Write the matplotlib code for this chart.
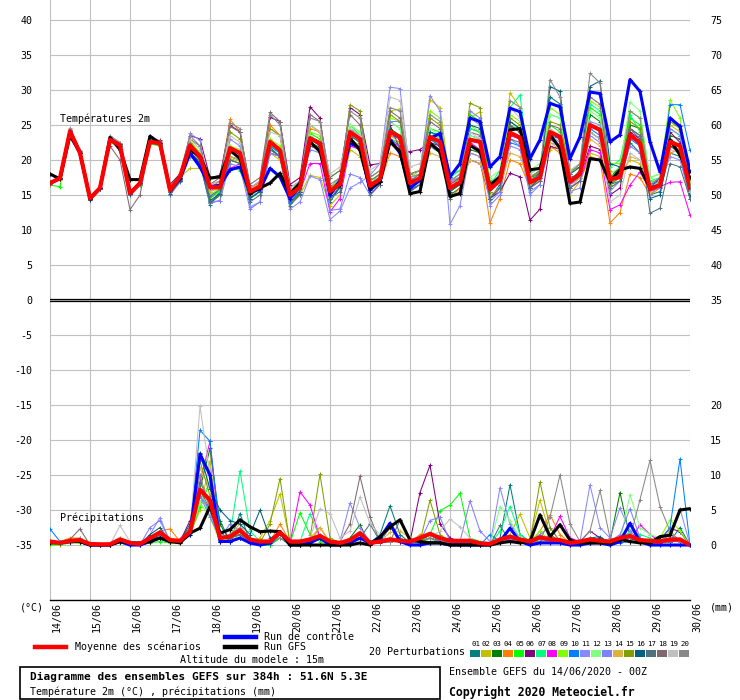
import matplotlib
matplotlib.use('Agg')
import matplotlib.pyplot as plt
from matplotlib.lines import Line2D
from matplotlib.patches import Rectangle
from matplotlib.transforms import ScaledTranslation

plt.rcParams['font.family'] = ['DejaVu Sans Mono', 'DejaVu Sans']

# ---------------- data ----------------
DATES = ['14/06', '15/06', '16/06', '17/06', '18/06', '19/06', '20/06', '21/06', '22/06',
         '23/06', '24/06', '25/06', '26/06', '27/06', '28/06', '29/06', '30/06']
STEPS = list(range(65))          # 6-hourly steps, 0h .. 384h

T_TICKS = [40, 35, 30, 25, 20, 15, 10, 5, 0, -5, -10, -15, -20, -25, -30, -35]
MM_TICKS = [75, 70, 65, 60, 55, 50, 45, 40, 35, 20, 15, 10, 5, 0]

PERT_NAMES = ['01', '02', '03', '04', '05', '06', '07', '08', '09', '10',
              '11', '12', '13', '14', '15', '16', '17', '18', '19', '20']
PERT_COLORS = ['#008080', '#c0c000', '#008000', '#ff8000', '#00ff00', '#800080', '#00ff80',
               '#ff00ff', '#80ff00', '#0080ff', '#8888ff', '#80ff80', '#8080ff', '#e0b040',
               '#80a000', '#006080', '#507080', '#806870', '#c0c0c0', '#888888']

# temperature 2m (degC)
t_mean = [16.7,17.4,24.1,21.0, 14.5,16.0,22.9,22.1, 15.2,16.7,22.6,22.4, 15.7,17.6,22.1,20.5,
          16.1,16.1,21.7,21.0, 15.5,16.2,22.6,21.4, 15.0,16.1,23.1,22.4, 15.5,16.6,24.0,23.0,
          16.3,17.3,24.0,23.3, 16.7,17.4,23.3,22.6, 16.0,16.8,22.9,22.6, 15.8,17.1,23.9,23.2,
          16.8,17.5,24.0,23.3, 16.9,18.0,25.0,24.3, 17.2,17.6,23.6,22.4, 15.8,16.4,22.6,22.0, 16.0]
t_ctrl = [16.7,17.4,24.1,21.0, 14.5,16.0,22.9,22.0, 15.2,16.7,22.6,22.4, 15.7,17.3,21.0,19.0,
          16.2,16.4,18.6,19.0, 15.5,15.8,18.8,17.6, 14.5,16.4,23.1,22.4, 15.0,17.1,22.4,21.7,
          15.7,16.9,22.9,21.0, 16.0,17.1,23.1,23.8, 17.6,19.5,26.0,25.5, 19.0,20.5,27.4,26.9,
          20.2,22.9,28.1,27.6, 20.2,23.3,29.7,29.5, 22.6,23.6,31.5,29.8, 22.6,18.3,26.0,24.8, 18.4]
t_gfs = [18.0,17.3,23.5,21.0, 14.5,16.0,23.2,21.5, 17.2,17.2,23.4,22.4, 15.7,17.5,21.5,20.5,
         17.4,17.6,21.4,20.2, 15.2,16.0,16.7,18.1, 15.2,16.7,22.6,21.2, 15.5,16.4,23.1,21.4,
         16.0,16.9,22.6,21.2, 15.2,15.5,22.4,21.2, 14.8,15.2,22.1,21.2, 16.4,17.6,24.3,24.5,
         18.6,18.8,23.6,21.7, 13.8,14.0,20.2,20.0, 16.9,18.6,19.0,18.8, 16.0,16.4,22.9,20.7, 17.6]

t_p01 = [16.8,17.5,24.3,21.2, 14.3,15.8,23.0,22.0, 15.0,16.8,22.8,22.3, 15.0,17.2,21.0,19.5,
         13.6,15.5,20.5,20.0, 14.8,16.0,21.8,20.5, 14.5,15.8,22.0,21.5, 14.0,16.2,23.0,22.0,
         15.5,17.0,22.5,21.5, 15.8,16.5,22.0,21.0, 15.5,16.8,24.5,24.0, 14.5,16.5,24.8,24.0,
         16.0,18.5,29.0,28.0, 17.5,18.0,24.0,23.0, 16.5,17.0,22.5,21.0, 15.0,15.5,21.0,20.5, 14.5]
t_p02 = [16.6,17.2,24.0,21.0, 14.6,16.1,22.8,22.2, 15.3,16.5,22.5,22.5, 16.0,17.5,18.8,18.8,
         16.5,16.0,20.2,19.8, 15.6,16.8,21.0,20.0, 14.0,15.0,17.8,17.5, 13.5,15.0,21.5,20.5,
         15.5,17.0,27.0,27.3, 17.5,18.5,28.6,27.5, 16.8,17.6,26.0,26.9, 16.0,17.0,29.6,27.5,
         17.0,18.0,21.5,22.0, 15.0,17.0,21.0,20.5, 18.5,18.0,20.0,19.5, 17.0,17.0,25.0,24.0, 16.0]
t_p03 = [16.9,17.3,24.2,21.3, 14.4,16.0,23.2,22.3, 15.4,16.9,22.4,22.1, 15.5,17.0,21.0,19.8,
         13.8,15.0,20.0,19.5, 14.5,15.5,21.5,20.5, 13.8,15.2,22.5,21.8, 15.5,16.5,24.5,23.5,
         16.0,17.5,24.5,23.5, 16.0,17.0,23.0,22.0, 15.0,16.0,21.5,21.0, 15.5,17.5,25.0,24.0,
         17.5,18.0,24.0,23.0, 17.0,18.5,26.5,25.5, 17.5,19.0,25.0,24.5, 16.0,17.0,23.5,23.0, 15.5]
t_p04 = [16.5,17.3,24.4,21.0, 14.7,16.2,23.0,22.0, 15.5,16.6,22.8,22.6, 16.0,17.8,22.5,20.5,
         16.5,17.0,25.8,24.0, 16.0,16.8,25.0,23.5, 15.5,16.5,24.5,24.0, 16.0,17.0,24.0,23.0,
         15.0,16.5,21.0,20.5, 16.5,17.0,22.0,21.5, 14.5,16.0,21.0,20.5, 11.0,14.5,20.0,19.5,
         16.0,17.0,22.0,21.0, 16.0,17.0,20.5,20.0, 11.0,12.5,18.0,17.5, 15.0,16.0,21.0,21.5, 16.5]
t_p05 = [16.4,16.2,24.0,21.2, 14.5,15.8,22.6,21.8, 15.2,16.4,22.3,22.0, 16.5,18.0,21.5,20.0,
         15.0,15.5,19.0,18.5, 14.5,15.5,22.0,21.0, 15.5,17.0,23.8,23.0, 17.5,18.5,23.5,22.5,
         17.0,18.0,23.0,22.5, 17.5,18.0,24.5,24.0, 18.0,18.5,26.5,25.5, 17.0,17.5,25.5,24.5,
         17.5,18.5,25.0,24.0, 17.0,18.0,27.5,26.5, 17.0,18.5,26.0,25.0, 16.5,17.0,22.5,22.0, 15.0]
t_p06 = [16.7,17.5,24.2,21.1, 14.5,16.0,23.0,22.3, 15.3,16.8,22.9,22.8, 16.5,18.0,23.5,23.0,
         17.5,17.8,25.0,24.0, 16.0,17.0,26.1,25.5, 16.5,17.5,27.6,26.0, 16.0,17.5,27.5,26.5,
         19.3,19.5,25.0,21.5, 21.2,21.5,22.5,22.0, 16.0,17.0,20.0,19.5, 14.5,15.5,18.1,17.6,
         11.4,13.0,22.0,21.5, 17.0,17.5,22.0,21.5, 15.0,16.0,24.0,23.0, 16.0,17.5,24.0,22.5, 17.0]
t_p07 = [16.8,17.4,24.1,21.0, 14.4,16.0,22.8,22.0, 15.0,16.6,22.5,22.3, 15.8,17.5,22.5,21.0,
         14.5,15.5,21.0,20.5, 15.0,16.0,22.0,21.0, 15.0,16.0,23.5,22.5, 15.5,17.0,25.0,23.5,
         16.5,18.0,25.5,24.5, 17.0,18.0,24.0,23.0, 17.5,18.5,24.5,24.0, 16.5,18.5,27.5,29.3,
         18.0,19.0,26.5,26.0, 18.0,19.5,28.0,27.0, 19.0,20.0,26.5,24.0, 17.0,17.5,24.5,23.5, 17.5]
t_p08 = [16.6,17.3,24.0,21.1, 14.6,16.1,22.9,22.0, 15.2,16.7,22.6,22.4, 15.8,17.5,21.5,20.0,
         15.5,16.5,18.8,19.5, 15.0,16.5,21.0,20.5, 14.0,15.5,19.5,19.5, 12.6,14.5,22.0,21.5,
         15.0,16.5,22.5,22.0, 16.0,17.5,23.5,22.5, 16.5,17.5,22.5,21.5, 15.5,17.0,23.5,23.0,
         16.5,17.5,23.0,22.0, 16.0,17.0,21.5,21.0, 12.9,13.6,16.4,18.3, 15.7,16.2,16.8,16.9, 12.2]
t_p09 = [16.7,17.4,24.3,21.2, 14.5,16.0,23.1,22.2, 15.2,16.8,22.7,22.5, 15.5,17.8,22.8,21.0,
         15.0,16.0,22.0,21.5, 15.5,16.5,23.0,22.0, 15.0,16.5,24.0,23.5, 16.0,17.0,25.0,24.0,
         17.0,18.0,26.0,25.5, 18.0,18.5,27.0,26.0, 17.0,18.0,25.0,24.0, 16.0,17.5,26.5,25.5,
         18.0,19.0,27.5,26.5, 18.5,19.5,28.5,27.5, 19.5,19.5,27.0,26.0, 17.5,18.0,28.6,26.0, 16.5]
t_p10 = [16.6,17.4,24.1,21.0, 14.4,15.9,22.8,22.1, 15.1,16.6,22.5,22.4, 15.5,17.3,21.5,20.2,
         14.8,15.8,20.5,20.0, 14.5,15.6,22.0,21.0, 14.0,15.5,22.5,21.5, 15.0,16.0,23.5,22.5,
         16.0,17.0,23.5,23.0, 16.5,17.5,23.0,22.0, 15.5,16.5,23.5,23.0, 16.5,17.5,22.5,22.0,
         17.0,18.0,23.5,23.0, 16.5,17.5,24.5,23.5, 16.5,17.5,23.0,22.0, 16.5,17.0,27.9,27.9, 21.4]
t_p11 = [16.8,17.5,24.6,21.4, 14.3,15.9,23.3,22.5, 15.4,16.9,22.9,22.6, 16.5,17.0,23.8,22.8,
         14.0,14.2,23.0,22.0, 13.3,14.0,21.0,20.5, 13.0,14.0,17.7,17.2, 11.5,12.7,16.0,16.8,
         17.8,19.5,30.4,30.2, 18.0,18.5,29.2,27.0, 10.8,13.5,21.0,20.5, 14.0,15.5,22.0,21.5,
         15.0,16.5,23.5,22.5, 15.5,16.0,25.5,25.0, 15.5,17.0,23.5,22.5, 15.0,16.5,20.5,20.0, 15.0]
t_p12 = [16.7,17.3,24.0,21.0, 14.5,16.0,22.8,22.0, 15.3,16.7,22.6,22.4, 16.0,17.6,22.0,20.5,
         15.5,16.0,21.5,21.0, 15.5,16.5,22.5,21.5, 15.5,16.5,23.5,22.5, 16.0,17.5,25.0,24.0,
         17.0,18.0,25.5,24.5, 17.5,18.0,24.5,23.5, 17.0,18.0,23.5,23.0, 17.5,18.5,25.0,24.5,
         18.5,19.5,26.5,26.0, 18.0,19.0,27.0,26.0, 18.0,19.0,28.3,27.0, 17.5,18.0,24.5,23.5, 17.0]
t_p13 = [16.7,17.4,24.2,21.1, 14.4,16.0,23.0,22.2, 15.2,16.6,22.6,22.5, 15.0,16.8,20.5,19.5,
         13.8,14.2,19.5,19.0, 13.0,14.0,21.0,20.5, 14.5,15.5,21.5,21.0, 12.8,13.0,18.0,17.5,
         15.0,16.5,25.5,25.5, 17.5,18.0,22.0,21.5, 17.0,17.5,27.0,26.0, 13.5,15.0,23.0,22.0,
         15.5,16.5,22.5,22.0, 16.5,17.5,23.5,22.5, 17.0,17.5,22.0,21.0, 15.5,16.0,24.5,23.5, 16.0]
t_p14 = [16.6,17.2,23.8,20.8, 14.6,16.2,22.7,22.0, 15.2,16.6,22.4,22.2, 15.8,17.5,21.8,20.0,
         15.5,16.0,20.5,20.0, 15.0,16.0,24.5,23.5, 15.5,16.5,25.0,24.0, 16.0,17.0,23.0,22.0,
         16.5,17.5,23.5,22.5, 16.0,17.0,21.0,20.5, 15.5,16.5,20.0,19.5, 15.0,16.0,21.0,20.5,
         16.5,17.0,22.5,21.5, 16.0,17.5,23.0,22.0, 16.0,17.0,20.5,20.0, 15.5,16.5,22.0,21.5, 15.5]
t_p15 = [16.7,17.4,24.1,21.1, 14.5,16.0,22.9,22.1, 15.2,16.7,22.6,22.4, 15.6,17.4,22.5,20.8,
         14.5,15.8,24.0,23.0, 15.5,16.5,24.5,23.5, 15.0,16.0,25.0,24.0, 16.0,17.0,27.9,27.0,
         17.5,18.5,26.5,25.5, 18.0,18.5,26.0,25.0, 16.0,17.5,28.1,27.5, 15.5,17.0,26.0,25.0,
         17.0,18.5,25.5,25.0, 18.5,19.0,25.0,24.5, 16.5,17.5,25.5,24.5, 16.0,17.0,25.5,24.5, 17.5]
t_p16 = [16.8,17.4,24.0,21.0, 14.3,15.8,22.9,22.3, 15.3,16.8,22.7,22.5, 15.2,17.0,21.0,19.5,
         14.2,15.2,21.5,21.0, 14.5,15.5,22.5,21.5, 14.5,15.5,23.0,22.0, 14.5,16.0,24.0,23.0,
         15.5,17.0,24.0,23.0, 15.5,16.5,24.0,23.5, 15.5,16.5,25.0,24.5, 14.5,16.0,25.5,24.5,
         16.0,17.5,30.5,29.8, 18.0,19.0,30.5,31.3, 19.5,19.0,24.5,23.5, 14.5,15.0,22.0,21.0, 15.0]
t_p17 = [16.6,17.3,24.2,21.0, 14.4,15.9,22.8,22.0, 15.1,16.6,22.5,22.3, 15.5,17.2,21.5,20.0,
         14.0,15.0,20.0,19.5, 14.0,15.0,21.5,20.5, 13.5,15.0,22.0,21.5, 14.5,15.5,23.5,22.5,
         15.0,16.5,23.0,22.0, 15.5,16.5,22.5,21.5, 14.5,15.5,22.0,21.5, 14.5,16.0,23.0,22.5,
         16.0,17.0,23.0,22.0, 16.0,17.0,24.0,23.0, 16.0,17.0,24.5,23.0, 12.4,13.1,19.5,19.0, 14.5]
t_p18 = [16.7,17.4,24.0,21.0, 14.5,16.0,22.0,20.0, 12.9,15.0,22.5,22.3, 15.5,17.5,23.0,22.0,
         16.5,17.5,24.8,24.0, 16.5,17.5,26.8,25.5, 16.0,17.0,26.5,25.5, 17.5,18.5,26.5,25.0,
         17.0,18.0,27.0,26.0, 17.0,18.0,25.5,24.5, 16.5,17.5,24.0,23.5, 16.0,17.5,25.0,24.0,
         17.5,18.5,25.0,24.5, 17.0,18.5,29.0,28.0, 17.5,18.0,24.5,23.5, 16.0,17.0,23.0,22.0, 16.0]
t_p19 = [16.7,17.3,24.1,21.0, 14.5,16.0,22.9,22.2, 15.3,16.8,22.7,22.5, 16.0,17.8,23.0,21.5,
         16.5,17.0,23.5,22.5, 16.0,17.0,24.0,23.5, 16.0,17.0,25.0,24.0, 18.0,19.0,24.5,23.5,
         18.5,19.5,29.0,28.5, 19.0,19.5,23.5,22.5, 17.0,18.0,24.0,23.0, 16.5,18.0,27.5,26.0,
         18.0,19.0,24.5,23.5, 18.5,19.5,24.0,23.0, 14.0,15.0,21.0,20.0, 16.0,17.0,21.5,21.0, 15.5]
t_p20 = [16.8,17.5,24.3,21.2, 14.4,16.0,23.5,22.5, 15.4,16.9,23.0,22.7, 16.3,17.8,23.5,22.0,
         16.0,17.0,25.3,24.5, 15.5,16.5,26.5,25.0, 15.5,16.5,26.0,25.5, 16.5,17.5,27.0,26.0,
         17.5,18.5,27.5,27.0, 18.0,18.5,26.5,25.5, 17.0,18.0,26.0,25.0, 16.0,17.5,28.5,27.5,
         17.5,18.5,31.5,29.0, 18.0,19.5,32.4,31.0, 17.0,18.0,27.0,26.0, 16.5,17.5,26.0,25.0, 16.5]

# precipitation (mm / 6h)
r_mean = [0.5,0.3,0.6,0.7, 0.15,0.1,0.1,0.8, 0.3,0.15,1.0,1.8, 0.7,0.6,1.9,7.9,
          6.4,1.0,1.2,2.1, 0.8,0.5,0.5,1.8, 0.5,0.5,0.8,1.3, 0.5,0.3,0.7,1.7,
          0.3,0.5,0.8,0.6, 0.5,1.0,1.6,1.0, 0.6,0.6,0.6,0.25, 0.15,0.8,1.2,0.8,
          0.5,1.1,0.8,0.7, 0.3,0.5,0.8,0.6, 0.5,1.0,1.3,0.7, 0.6,0.5,0.8,0.8, 0.0]
r_ctrl = [0.5,0.3,0.5,0.5, 0,0,0,0.5, 0,0,0.5,1.0, 0.5,0.5,1.5,13.0,
          10.0,0.5,0.5,1.0, 0.3,0,0.3,1.9, 0,0,0.3,1.0, 0,0,0.3,1.0,
          0.3,1.0,3.1,0.5, 0,0,0.3,0.3, 0,0,0,0, 0,0.5,2.4,0.5,
          0,0.3,0.3,0.3, 0,0,0.3,0.3, 0,0.5,3.1,0.5, 0,0,0,0, 0]
r_gfs = [0.3,0.3,0.5,0.5, 0,0,0,0.5, 0.3,0.3,0.5,1.0, 0.5,0.3,1.7,2.4,
         5.5,1.7,2.2,3.6, 2.6,1.9,2.0,1.9, 0,0,0,0, 0,0,0,0.3,
         0,1.2,2.6,3.6, 0.7,0.5,0.3,0.3, 0,0,0,0, 0,0.3,0.5,0.3,
         0.5,4.3,1.2,2.9, 0.7,0.3,0.3,0.3, 0.3,0.8,0.5,0.3, 0.3,1.2,1.4,5.0, 5.2]

r_p01 = [0.3,0.2,0.5,0.8, 0,0,0,0.5, 0.2,0,0.8,2.0, 0.5,0.5,2.0,6.0, 9.0,3.5,0.5,4.5, 0.5,0,0,1.0,
         0,0,0.5,1.0, 0,0,0.5,1.5, 0,1.5,5.6,1.5, 0.3,0.5,1.5,0.5, 0.3,0.3,0.5,0, 0,1.0,8.6,1.5,
         0.5,1.5,0.5,0.3, 0,0.5,1.0,1.2, 0.3,0.5,1.0,0.5, 0.3,0.5,0.5,2.5, 0]
r_p02 = [0.5,0.3,0.5,0.5, 0,0,0,0.8, 0.3,0,1.0,1.5, 0.5,0.5,1.5,5.0, 12.0,1.0,1.5,2.0, 0.5,1.0,3.5,7.3,
         0.5,0,0.5,1.0, 0.3,0,0.5,1.0, 0.5,0.5,1.0,0.5, 0.3,0.5,1.0,0.5, 0.5,0.5,0.3,0, 0,0.5,1.5,4.4,
         1.0,6.4,1.5,0.5, 0.3,0.5,0.5,0.5, 0.5,0.5,0.5,0.3, 0.3,0.5,2.0,0.5, 0]
r_p03 = [0.3,0.2,0.3,0.5, 0,0,0,0.5, 0,0,0.5,1.5, 0.8,0.5,2.0,8.0, 13.8,3.0,0.5,1.0, 0.5,0,0,1.5,
         0.3,0.3,0.8,1.5, 0.5,0.3,1.0,2.9, 0,0.5,0.5,0.5, 0.5,0.8,1.5,0.8, 0.5,0.5,0.5,0, 0,0.5,1.0,0.5,
         0.3,0.5,0.5,0.5, 0,0.3,0.5,0.5, 0.5,7.5,1.0,0.5, 0.5,0.3,0.5,0.5, 0]
r_p04 = [0.5,0.5,1.0,1.0, 0,0,0,1.0, 0.5,0,1.0,2.0, 2.3,0.5,2.5,8.0, 6.0,0.5,1.0,2.0, 0.5,0.5,0.5,3.0,
         0.5,0.3,0.5,2.5, 0.3,0,0.5,1.0, 0.5,0.3,0.5,0.5, 0.3,1.5,1.5,1.0, 0.5,0.5,0.5,0, 0,0.5,0.5,0.5,
         0.3,2.0,4.3,1.5, 0.3,0.5,0.5,0.3, 0.3,0.5,0.5,0.3, 0.3,0.3,0.5,0.5, 0]
r_p05 = [0,0,0.3,0.3, 0,0,0,0.3, 0,0,0.3,0.5, 0.3,0.3,1.5,5.5, 9.0,1.0,0.5,1.5, 0.3,0,0,1.0,
         0.3,4.6,1.5,0.5, 0.3,0,0.5,1.0, 0,0.5,0.5,0.5, 0.3,0.5,1.5,4.9, 5.7,7.4,1.0,0.5, 0,0.5,0.8,0.5,
         0.3,0.8,0.5,0.5, 0,0.5,0.5,0.5, 0.3,0.5,1.0,0.5, 0.3,0.5,1.0,0.5, 0]
r_p06 = [0.5,0.3,0.5,0.8, 0,0,0,0.5, 0.3,0,1.0,1.5, 0.5,0.5,3.5,7.0, 5.0,0.5,1.0,1.5, 0.5,0,0.5,1.0,
         0.3,0.3,0.5,1.0, 0.5,0.3,0.5,1.5, 0.5,0.3,0.5,0.8, 0.5,7.5,11.4,3.0, 1.0,0.5,0.5,0, 0,0.5,0.8,0.5,
         0.3,0.5,0.5,0.5, 0,0.5,2.0,1.0, 0.3,0.5,1.0,0.5, 0.3,0.8,2.4,1.9, 0]
r_p07 = [0.3,0.2,0.5,0.5, 0,0,0,0.5, 0,0,0.5,1.5, 0.5,0.5,1.5,8.0, 4.0,1.0,1.5,10.6, 2.0,0.5,0.5,1.0,
         0.3,0.5,4.5,1.0, 0.5,0.3,0.5,1.0, 0.5,0.5,0.5,0.5, 0.3,0.5,1.0,0.5, 0.3,0.5,0.5,0, 0,2.0,5.5,1.5,
         0.5,0.5,0.5,0.5, 0,0.3,0.5,0.5, 0.3,0.5,2.0,1.5, 1.0,0.5,0.5,0.5, 0]
r_p08 = [0.3,0.2,0.3,0.5, 0,0,0,0.5, 0,0,0.5,1.0, 0.5,0.5,2.0,9.0, 14.8,1.0,0.5,1.0, 0.3,0.5,0.5,1.0,
         0.3,7.6,5.7,1.0, 0.3,0,0.5,1.0, 0,0.5,0.5,0.5, 0.3,0.5,1.0,0.5, 0.3,0.3,0.3,0, 0,0.5,0.5,0.5,
         0.3,0.5,1.0,4.1, 1.0,0.5,0.5,0.3, 0.3,0.5,0.5,2.9, 1.5,0.5,0.5,0.5, 0]
r_p09 = [0,0,0.3,0.3, 0,0,0,0.3, 0,0,0.5,1.0, 0.3,0.3,1.5,6.0, 4.0,0.5,1.0,1.5, 0.5,0,0.5,1.0,
         0.3,0.3,0.5,1.0, 0.3,0,0.5,0.8, 0.3,0.5,0.5,0.5, 0.3,0.5,0.8,0.5, 0.3,0.3,0.3,0, 0,0.5,0.5,0.5,
         0.5,2.0,0.5,0.5, 0,0.3,0.5,0.3, 0.3,0.5,0.5,0.5, 0.5,1.0,3.6,2.0, 0]
r_p10 = [2.3,0.5,0.3,0.5, 0,0,0,0.5, 0,0,0.5,1.0, 0.5,0.5,2.0,16.4, 14.8,2.0,0.5,1.0, 0.3,0,0.3,1.0,
         0.3,0.3,0.5,1.0, 0.3,0,0.5,1.0, 0.3,1.5,0.5,0.5, 0.3,0.3,0.5,0.5, 0.3,0.3,0.3,0, 1.5,0.5,0.5,0.5,
         0.3,0.5,0.5,0.3, 0,0.3,0.3,0.3, 0,0.3,0.5,0.3, 0,0.5,2.5,12.3, 0]
r_p11 = [0.5,0.3,0.5,0.8, 0,0,0,0.5, 0.3,0,1.5,3.9, 0.5,0.5,2.0,7.0, 5.0,1.0,1.5,2.0, 0.5,0.3,0.5,1.5,
         0.5,0.5,0.5,1.0, 0.3,0.5,6.0,2.5, 0.5,0.5,0.5,0.5, 0.5,0.5,1.0,0.5, 0.3,0.3,0.5,0, 0,8.2,3.0,1.0,
         0.5,0.5,0.5,0.5, 0.3,0.5,8.6,2.5, 1.0,5.3,2.0,0.5, 0.5,0.5,1.0,5.2, 0]
r_p12 = [0.3,0.2,0.3,0.5, 0,0,0,0.3, 0,0,0.5,1.0, 0.5,0.5,1.5,6.0, 9.0,1.0,0.5,1.5, 0.5,0,0.5,1.0,
         0.3,0.3,0.5,1.0, 0.3,0.3,0.5,1.0, 0.3,0.5,0.5,0.5, 0.3,0.5,0.8,0.5, 0.3,0.3,0.3,0, 0,5.5,3.5,1.0,
         0.5,0.5,0.5,0.5, 0.3,0.5,0.5,0.5, 0.5,0.5,7.2,2.5, 1.5,1.0,0.5,0.5, 0]
r_p13 = [0.5,0.3,0.5,0.5, 0,0,0,0.5, 0.3,0,2.5,3.5, 0.5,0.5,2.0,7.0, 4.0,1.0,3.0,2.0, 0.5,0.3,0.5,1.0,
         0.3,0.3,0.5,1.0, 0.5,0.5,0.5,1.5, 0.5,0.5,0.5,0.5, 0.5,0.5,3.5,4.0, 0.5,0.5,6.3,2.0, 0.5,0.5,0.8,0.5,
         0.5,1.5,2.5,0.5, 0.3,0.5,0.5,0.5, 0.5,1.5,5.2,1.0, 0.5,0.5,1.5,0.5, 0]
r_p14 = [0.5,0.3,0.8,0.8, 0,0,0,0.8, 0.3,0,1.0,2.0, 1.0,0.5,2.5,11.0, 8.0,1.0,1.5,3.0, 0.5,0.5,0.5,1.0,
         0.5,0.5,1.0,2.5, 0.5,0.3,0.5,1.0, 0.5,0.5,1.8,2.0, 1.0,0.5,1.0,0.5, 0.5,0.3,0.3,0, 0,0.5,0.5,0.5,
         0.3,0.5,1.0,0.5, 0.3,0.5,0.5,0.3, 0.3,0.5,0.5,0.5, 0.3,0.3,0.5,0.5, 0]
r_p15 = [0.3,0.2,0.5,0.5, 0,0,0,0.5, 0,0,0.5,1.5, 0.5,0.5,2.5,12.0, 7.0,1.0,1.0,1.5, 0.5,0.3,3.0,9.5,
         0.3,0.5,1.0,10.1, 1.0,0.3,0.5,1.0, 0.5,0.5,0.5,0.5, 0.5,0.5,6.4,1.5, 0.5,0.3,0.3,0, 0,0.5,0.5,0.5,
         0.5,9.0,2.5,0.5, 0.3,0.5,0.5,0.3, 0.3,0.5,0.5,0.5, 0.3,0.3,0.5,0.5, 0]
r_p16 = [0.3,0.2,0.5,0.5, 0,0,0,0.5, 0.3,0,1.5,2.5, 0.5,0.5,3.0,13.1, 8.0,5.0,3.5,3.0, 1.5,5.0,1.0,1.5,
         0.5,0.3,0.5,1.0, 0.5,0.3,0.5,1.5, 0.5,0.5,0.5,0.5, 0.3,0.5,1.0,0.5, 0.3,0.3,0.3,0, 0,0.5,0.5,0.5,
         0.3,0.5,0.5,0.5, 0,0.5,0.5,1.0, 0.3,0.5,1.0,0.5, 0.3,0.5,0.5,0.5, 0]
r_p17 = [0.3,0.2,0.5,0.5, 0,0,0,0.5, 0,0,0.5,1.5, 0.5,0.5,2.0,9.0, 6.0,1.0,1.0,1.5, 0.5,0.3,0.5,1.0,
         0.3,0.3,0.5,1.0, 0.3,0.3,0.5,1.0, 3.0,0.5,2.5,1.0, 0.3,0.5,1.0,0.5, 0.3,0.3,0.3,0, 0,2.8,0.5,0.5,
         0.3,0.5,0.5,0.5, 0,0.5,0.5,0.5, 0.3,0.5,1.5,0.5, 0.3,0.5,0.5,0.5, 0]
r_p18 = [0.5,0.3,0.8,2.3, 0,0,0,0.8, 0.3,0,1.0,2.0, 0.5,0.5,2.0,8.0, 5.0,1.0,1.0,1.5, 0.5,0.3,0.5,1.0,
         0.3,0.3,0.5,1.0, 0.5,0.5,3.0,9.8, 4.0,0.5,0.5,3.5, 0.5,0.5,1.0,0.5, 0.3,0.3,0.3,0, 0,0.5,0.5,0.5,
         0.3,0.5,1.5,0.5, 0.3,0.5,0.5,0.3, 0.3,0.5,0.5,0.5, 0.3,0.3,0.5,0.5, 0]
r_p19 = [0.3,0.2,0.5,0.5, 0,0,0,2.8, 0.5,0,0.5,1.0, 0.5,0.5,2.0,19.8, 10.0,1.0,1.5,2.0, 0.5,0.5,0.5,1.0,
         0.3,0.3,1.0,5.2, 4.5,1.0,2.0,6.9, 3.1,1.5,0.5,0.5, 0.3,0.5,1.0,2.0, 3.7,2.6,1.0,0, 0,0.5,0.5,0.5,
         0.3,0.5,0.5,0.5, 0,0.3,0.5,0.5, 0.3,0.5,0.5,0.5, 0.3,0.5,1.0,0.5, 0]
r_p20 = [0.5,0.3,0.5,1.0, 0,0,0,0.5, 0.3,0,1.0,2.0, 0.5,0.5,2.5,10.0, 5.0,1.0,1.5,2.5, 0.5,0.5,0.5,1.0,
         0.3,0.3,0.5,1.0, 0.3,0.3,0.5,1.0, 0.3,0.5,0.5,0.5, 0.3,0.5,1.0,0.5, 0.3,0.3,0.3,0, 0,0.5,0.5,0.5,
         0.3,0.5,4.0,10.0, 3.0,0.5,2.0,7.8, 1.0,0.5,1.0,6.5, 12.1,5.5,2.0,0.5, 0]

T_PERTS = [t_p01, t_p02, t_p03, t_p04, t_p05, t_p06, t_p07, t_p08, t_p09, t_p10,
           t_p11, t_p12, t_p13, t_p14, t_p15, t_p16, t_p17, t_p18, t_p19, t_p20]
R_PERTS = [r_p01, r_p02, r_p03, r_p04, r_p05, r_p06, r_p07, r_p08, r_p09, r_p10,
           r_p11, r_p12, r_p13, r_p14, r_p15, r_p16, r_p17, r_p18, r_p19, r_p20]

# ---------------- figure ----------------
W, H = 740, 700
fig = plt.figure(figsize=(W / 100, H / 100), dpi=100)
fig.patch.set_facecolor('white')

def fx(x):
    return x / W

def fy(y):
    return 1 - y / H

ax = fig.add_axes([fx(50), fy(600), 640 / W, 600 / H])
ax2 = ax.twinx()
YLIM = 300 / 7.0
ax.set_ylim(-YLIM, YLIM)
ax2.set_ylim(-YLIM + 35, YLIM + 35)     # precipitation scale: 0 mm at -35 degC
ax.set_xlim(STEPS[0], STEPS[-1])

GRID = '#c0c0c0'
FS = 7.2
ax.set_yticks(T_TICKS)
ax.set_yticklabels([str(v) for v in T_TICKS])
ax.set_xticks(STEPS[::4])
ax.set_xticklabels(DATES, rotation=90, ha='center', va='top')
ax.grid(True, color=GRID, lw=0.8)
ax.set_axisbelow(True)
ax.tick_params(axis='y', length=0, pad=12.5, labelsize=FS)
ax.tick_params(axis='x', length=0, pad=1.5, labelsize=FS)
for lab in ax.get_xticklabels():
    lab.set_transform(lab.get_transform() + ScaledTranslation(0.07, 0, fig.dpi_scale_trans))
ax2.set_yticks(MM_TICKS)
ax2.set_yticklabels([str(v) for v in MM_TICKS])
ax2.tick_params(axis='y', length=0, pad=14.5, labelsize=FS)

for a in (ax, ax2):
    for s in ('left', 'right', 'top'):
        a.spines[s].set_visible(False)
ax.spines['bottom'].set_color('black')
ax.spines['bottom'].set_linewidth(1.0)
ax2.spines['bottom'].set_visible(False)

# double zero line
ax.axhline(0.18, color='black', lw=0.9, zorder=3)
ax.axhline(-0.18, color='black', lw=0.9, zorder=3)

# perturbations
for vals_t, vals_r, col in zip(T_PERTS, R_PERTS, PERT_COLORS):
    ax.plot(STEPS, vals_t, color=col, lw=0.75, marker='+', ms=3.2, mew=0.7, zorder=2)
    ax2.plot(STEPS, vals_r, color=col, lw=0.75, marker='+', ms=3.2, mew=0.7, zorder=2)

# control, GFS, mean
ax.plot(STEPS, t_ctrl, color='#0000ff', lw=2.2, marker='+', ms=3, mew=0.8, zorder=4)
ax2.plot(STEPS, r_ctrl, color='#0000ff', lw=2.2, marker='+', ms=3, mew=0.8, zorder=4)
ax.plot(STEPS, t_gfs, color='black', lw=2.2, marker='+', ms=3, mew=0.8, zorder=5)
ax2.plot(STEPS, r_gfs, color='black', lw=2.2, marker='+', ms=3, mew=0.8, zorder=5)
ax.plot(STEPS, t_mean, color='#ff0000', lw=3.0, zorder=6)
ax2.plot(STEPS, r_mean, color='#ff0000', lw=3.0, zorder=6)

# in-chart labels
fig.text(fx(60), fy(119), 'Températures 2m', fontsize=FS, ha='left', va='center')
fig.text(fx(60), fy(518), 'Précipitations', fontsize=FS, ha='left', va='center')
fig.text(fx(20), fy(607), '(°C)', fontsize=FS, ha='left', va='center')
fig.text(fx(710), fy(607), '(mm)', fontsize=FS, ha='left', va='center')

# legend
fig.add_artist(Line2D([fx(35), fx(66)], [fy(647), fy(647)], color='#ff0000', lw=3.2))
fig.text(fx(75), fy(647), 'Moyenne des scénarios', fontsize=FS, ha='left', va='center')
fig.add_artist(Line2D([fx(225), fx(256)], [fy(637), fy(637)], color='#0000ff', lw=3.2))
fig.text(fx(264), fy(637), 'Run de contrôle', fontsize=FS, ha='left', va='center')
fig.add_artist(Line2D([fx(225), fx(256)], [fy(647), fy(647)], color='black', lw=3.2))
fig.text(fx(264), fy(647), 'Run GFS', fontsize=FS, ha='left', va='center')
fig.text(fx(180), fy(660), 'Altitude du modele : 15m', fontsize=FS, ha='left', va='center')
fig.text(fx(369), fy(652), '20 Perturbations', fontsize=FS, ha='left', va='center')
for i, (name, col) in enumerate(zip(PERT_NAMES, PERT_COLORS)):
    x0 = 470 + 11 * i
    fig.add_artist(Rectangle((fx(x0), fy(656.5)), 10 / W, 6.5 / H, facecolor=col,
                             edgecolor='none'))
    fig.text(fx(x0 + 5.5), fy(644), name, fontsize=5.3, ha='center', va='center')

# info box
fig.add_artist(Rectangle((fx(20), fy(699)), 420 / W, 32 / H, fill=False,
                         edgecolor='black', lw=1.2))
fig.text(fx(30), fy(677), 'Diagramme des ensembles GEFS sur 384h : 51.6N 5.3E',
         fontsize=8.0, fontweight='bold', ha='left', va='center')
fig.text(fx(30), fy(692), 'Température 2m (°C) , précipitations (mm)',
         fontsize=FS, ha='left', va='center')
fig.text(fx(449), fy(672), 'Ensemble GEFS du 14/06/2020 - 00Z', fontsize=FS,
         ha='left', va='center')
fig.text(fx(449), fy(692), 'Copyright 2020 Meteociel.fr', fontsize=8.3,
         fontweight='bold', ha='left', va='center')

fig.savefig('out.png', dpi=100, facecolor='white')
